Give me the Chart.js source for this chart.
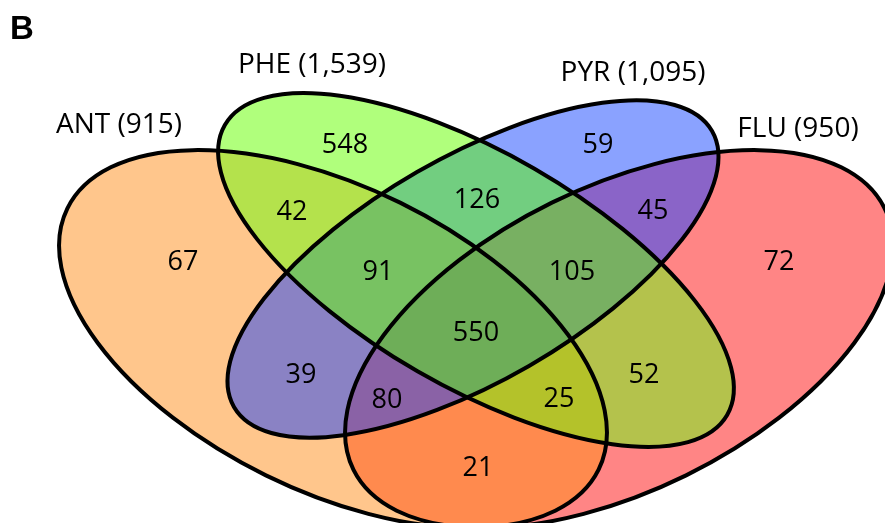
<!DOCTYPE html>
<html>
<head>
<meta charset="utf-8">
<script src="https://cdn.jsdelivr.net/npm/chart.js@4.4.1/dist/chart.umd.min.js"></script>
<style>
  html, body { margin: 0; padding: 0; background: #fff; }
  #wrap { width: 885px; height: 523px; }
</style>
</head>
<body>
<div id="wrap"><canvas id="vennChart" width="885" height="523"></canvas></div>
<script>
// data
const setNames = ["ANT", "PHE", "PYR", "FLU"];
const setTotals = [915, 1539, 1095, 950];

// each region = list of sets it belongs to, and its count
const regionSets = [
  ["ANT"], ["PHE"], ["PYR"], ["FLU"],
  ["ANT", "PHE"], ["PHE", "PYR"], ["PYR", "FLU"],
  ["ANT", "PYR"], ["ANT", "FLU"], ["PHE", "FLU"],
  ["ANT", "PHE", "PYR"], ["PHE", "PYR", "FLU"],
  ["ANT", "PYR", "FLU"], ["ANT", "PHE", "FLU"],
  ["ANT", "PHE", "PYR", "FLU"],
];
const regionCounts = [67, 548, 59, 72, 42, 126, 45, 39, 21, 52, 91, 105, 80, 25, 550];

// layout (diagram units, 1 unit = 1px of the figure)
const ellipses = {
  ANT: { cx: 333, cy: 339, rx: 296, ry: 152, rot: 26.2 },
  PHE: { cx: 476, cy: 270, rx: 290, ry: 117, rot: 30 },
  PYR: { cx: 473, cy: 269, rx: 276, ry: 112, rot: -30 },
  FLU: { cx: 619, cy: 339, rx: 296, ry: 152, rot: -26.2 },
};
const regionLabelPos = [
  [183, 260], [345, 143], [598, 143], [779, 260],
  [292, 210], [477, 198], [653, 209],
  [301, 373], [478, 466], [644, 373],
  [378, 270], [572, 270],
  [387, 398], [559, 397],
  [476, 331],
];
const regionColors = [
  "#ffc68c", "#b0ff7c", "#8aa2ff", "#ff8585",
  "#b4e24c", "#72ce80", "#8a64c8",
  "#8a82c4", "#ff8a4e", "#b4c24c",
  "#78c262", "#78b062",
  "#8a62a6", "#b4c22a",
  "#6eae58",
];
const setLabelPos = [[119, 133], [312, 73], [633, 81], [798, 137]];

const countFont = 27;
const setFont = 28;

function ellipsePath(ctx, chart, name) {
  const e = ellipses[name];
  const xs = chart.scales.x;
  const ys = chart.scales.y;
  const px = xs.getPixelForValue(e.cx);
  const py = ys.getPixelForValue(e.cy);
  const rx = Math.abs(xs.getPixelForValue(e.cx + e.rx) - px);
  const ry = Math.abs(ys.getPixelForValue(e.cy + e.ry) - py);
  ctx.ellipse(px, py, rx, ry, (e.rot * Math.PI) / 180, 0, Math.PI * 2);
}

const vennPlugin = {
  id: "venn",
  beforeDatasetsDraw(chart) {
    const ctx = chart.ctx;
    const w = chart.width;
    const h = chart.height;

    regionSets.forEach(function (members, i) {
      ctx.save();
      setNames.forEach(function (name) {
        ctx.beginPath();
        if (members.includes(name)) {
          ellipsePath(ctx, chart, name);
          ctx.clip();
        } else {
          ctx.rect(-10, -10, w + 20, h + 20);
          ellipsePath(ctx, chart, name);
          ctx.clip("evenodd");
        }
      });
      ctx.fillStyle = regionColors[i];
      ctx.fillRect(0, 0, w, h);
      ctx.restore();
    });

    ctx.save();
    ctx.strokeStyle = "#000";
    ctx.lineWidth = 4;
    setNames.forEach(function (name) {
      ctx.beginPath();
      ellipsePath(ctx, chart, name);
      ctx.stroke();
    });
    ctx.restore();
  },
  afterDatasetsDraw(chart) {
    const ctx = chart.ctx;
    const xs = chart.scales.x;
    const ys = chart.scales.y;
    ctx.save();
    ctx.fillStyle = "#000";
    ctx.textAlign = "center";
    ctx.textBaseline = "alphabetic";

    // region counts at the points of the label dataset
    ctx.font = countFont + "px 'Open Sans'";
    const meta = chart.getDatasetMeta(0);
    meta.data.forEach(function (pt, i) {
      ctx.fillText(String(regionCounts[i]), pt.x, pt.y + countFont * 0.357);
    });

    // set names with totals
    ctx.font = setFont + "px 'Open Sans'";
    setNames.forEach(function (name, i) {
      const txt = name + " (" + setTotals[i].toLocaleString("en-US") + ")";
      ctx.fillText(txt, xs.getPixelForValue(setLabelPos[i][0]), ys.getPixelForValue(setLabelPos[i][1]));
    });

    // panel letter
    ctx.textAlign = "left";
    ctx.font = "bold 33px 'Liberation Sans'";
    ctx.fillText("B", xs.getPixelForValue(10), ys.getPixelForValue(39));
    ctx.restore();
  },
};

const ctx = document.getElementById("vennChart").getContext("2d");
const vennChart = new Chart(ctx, {
  type: "scatter",
  data: {
    datasets: [
      {
        label: "Region counts",
        data: regionLabelPos.map((p) => ({ x: p[0], y: p[1] })),
        pointRadius: 0,
        pointHoverRadius: 0,
      },
    ],
  },
  options: {
    responsive: false,
    devicePixelRatio: 1,
    animation: false,
    layout: { padding: 0 },
    events: [],
    scales: {
      x: { type: "linear", min: 0, max: 885, display: false },
      y: { type: "linear", min: 0, max: 523, reverse: true, display: false },
    },
    plugins: {
      legend: { display: false },
      tooltip: { enabled: false },
    },
  },
  plugins: [vennPlugin],
});
</script>
</body>
</html>
